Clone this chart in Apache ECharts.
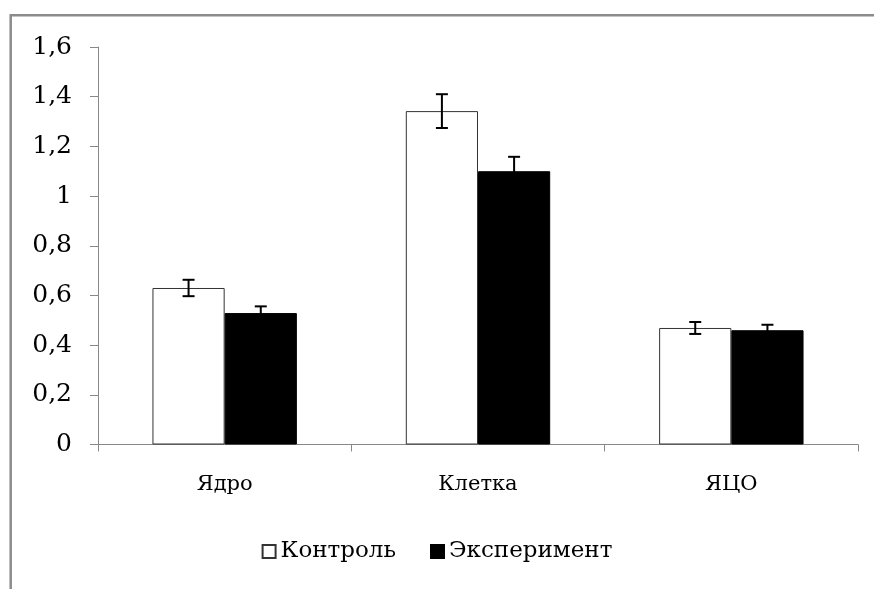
<!DOCTYPE html>
<html>
<head>
<meta charset="utf-8">
<script src="https://cdn.jsdelivr.net/npm/echarts@6/dist/echarts.min.js"></script>
<style>html,body{margin:0;padding:0;background:#fff}#c{width:874px;height:589px}</style>
</head>
<body>
<div id="c"></div>
<script>
var categories = ['Ядро', 'Клетка', 'ЯЦО'];
var seriesNames = ['Контроль', 'Эксперимент'];
var control = [0.63, 1.342, 0.469];
var controlErr = [0.033, 0.068, 0.024];
var experiment = [0.529, 1.10, 0.46];
var experimentErr = [0.027, 0.058, 0.022];
var yTicks = { min: 0, max: 1.6, interval: 0.2 };

var FONT = "'DejaVu Serif', serif";
var GAP = 0.43;

function errItem(side) {
  return function (params, api) {
    var i = api.value(0);
    var v = api.value(1);
    var e = api.value(2);
    var band = api.size([1, 0])[0];
    var bw = band * (1 - GAP) / 2;
    var c = api.coord([i, v]);
    var x = c[0] + side * bw / 2;
    var top = api.coord([i, v + e])[1];
    var bot = api.coord([i, v - e])[1];
    var cap = 6;
    var st = { stroke: '#000', lineWidth: 2 };
    return {
      type: 'group',
      children: [
        { type: 'line', shape: { x1: x, y1: top, x2: x, y2: bot }, style: st },
        { type: 'line', shape: { x1: x - cap, y1: top, x2: x + cap, y2: top }, style: st },
        { type: 'line', shape: { x1: x - cap, y1: bot, x2: x + cap, y2: bot }, style: st }
      ]
    };
  };
}

var chart = echarts.init(document.getElementById('c'));
chart.setOption({
  animation: false,
  backgroundColor: '#fff',
  graphic: [{
    type: 'rect', silent: true, z: 100,
    shape: { x: 10.7, y: 15.2, width: 1200, height: 1200 },
    style: { fill: 'none', stroke: '#8c8c8c', lineWidth: 2.5 }
  }],
  grid: { left: 98, right: 16, top: 47, bottom: 144.5, containLabel: false },
  legend: {
    data: seriesNames,
    bottom: 21,
    left: 'center',
    itemWidth: 13,
    itemHeight: 13,
    itemGap: 34,
    textStyle: { fontFamily: FONT, fontSize: 23, color: '#000', padding: [0, 0, 0, 0] },
    icon: 'rect'
  },
  xAxis: {
    type: 'category',
    data: categories,
    axisLine: { lineStyle: { color: '#888', width: 1 } },
    axisTick: { show: true, length: 7, lineStyle: { color: '#888' } },
    axisLabel: { fontFamily: FONT, fontSize: 21, color: '#000', margin: 30 },
    splitLine: { show: false }
  },
  yAxis: {
    type: 'value',
    min: yTicks.min, max: yTicks.max, interval: yTicks.interval,
    axisLine: { show: true, lineStyle: { color: '#888', width: 1 } },
    axisTick: { show: true, length: 8, lineStyle: { color: '#888' } },
    axisLabel: {
      fontFamily: FONT, fontSize: 25, color: '#000', margin: 26,
      formatter: function (v) { return String(Math.round(v * 10) / 10).replace('.', ','); }
    },
    splitLine: { show: false }
  },
  series: [
    {
      name: seriesNames[0], type: 'bar', data: control,
      barGap: '0%', barCategoryGap: (GAP * 100) + '%',
      itemStyle: { color: '#fff', borderColor: '#333', borderWidth: 1 }
    },
    {
      name: seriesNames[1], type: 'bar', data: experiment,
      barGap: '0%', barCategoryGap: (GAP * 100) + '%',
      itemStyle: { color: '#000', borderColor: '#000', borderWidth: 1 }
    },
    {
      type: 'custom', name: 'errC', z: 10,
      renderItem: errItem(-1),
      data: control.map(function (v, i) { return [i, v, controlErr[i]]; })
    },
    {
      type: 'custom', name: 'errE', z: 10,
      renderItem: errItem(1),
      data: experiment.map(function (v, i) { return [i, v, experimentErr[i]]; })
    }
  ]
});
</script>
</body>
</html>
